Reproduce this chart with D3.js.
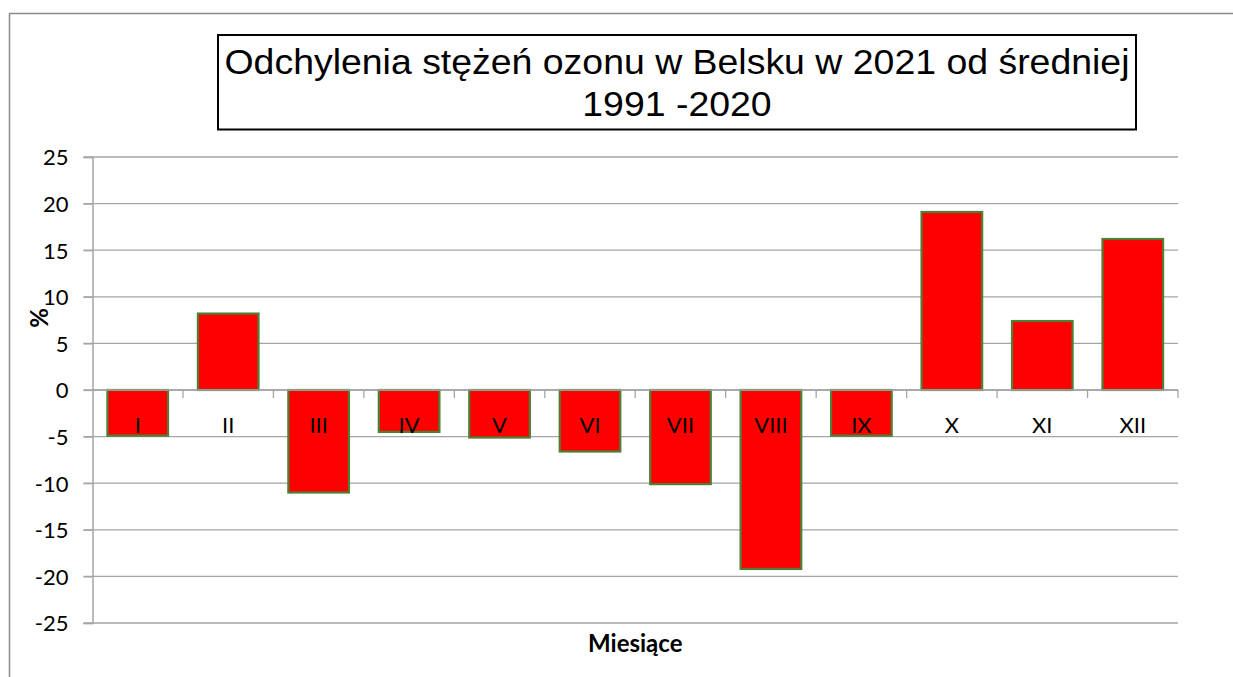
<!DOCTYPE html>
<html>
<head>
<meta charset="utf-8">
<script src="https://cdn.jsdelivr.net/npm/d3@7"></script>
<style>
  html, body { margin: 0; padding: 0; background: #fff; }
  svg { display: block; }
</style>
</head>
<body>
<svg id="chart" width="1233" height="677"></svg>
<script>
// chart data
var months = ["I", "II", "III", "IV", "V", "VI", "VII", "VIII", "IX", "X", "XI", "XII"];
var deviation = [-4.9, 8.2, -11.0, -4.5, -5.1, -6.6, -10.1, -19.2, -4.9, 19.1, 7.4, 16.2];
var yTicks = [25, 20, 15, 10, 5, 0, -5, -10, -15, -20, -25];
var titleLines = ["Odchylenia stężeń ozonu w Belsku w 2021 od średniej", "1991 -2020"];

(function () {
    var svg = d3.select("#chart");

    /* plot area */
    var plotLeft = 92.5, plotRight = 1178, plotTop = 157, plotBottom = 623;

    var x = d3.scaleBand()
        .domain(months)
        .range([plotLeft, plotRight])
        .paddingInner(0.33)
        .paddingOuter(0.165);

    var y = d3.scaleLinear()
        .domain([-25, 25])
        .range([plotBottom, plotTop]);

    // outer chart frame (only top and left edges are visible)
    svg.append("path")
        .attr("d", "M9.5,677V13.5H1233")
        .attr("fill", "none")
        .attr("stroke", "#8a8a8a")
        .attr("stroke-width", 1.5);

    // title box
    svg.append("rect")
        .attr("x", 218).attr("y", 35)
        .attr("width", 918).attr("height", 94.5)
        .attr("fill", "#fff")
        .attr("stroke", "#000")
        .attr("stroke-width", 2);

    var titles = svg.selectAll("text.title")
        .data(titleLines)
        .enter().append("text")
        .attr("class", "title")
        .attr("x", 677)
        .attr("y", function (d, i) { return 73.5 + i * 42; })
        .attr("text-anchor", "middle")
        .style("font-family", "'Liberation Sans', Arial, sans-serif")
        .style("font-size", "35px")
        .attr("fill", "#000")
        .text(function (d) { return d; });

    // the original title font runs a bit wider than Liberation Sans: stretch to match
    var firstWidth = titles.nodes()[0].getComputedTextLength();
    var stretch = 905 / firstWidth;
    titles.each(function () {
        var w = this.getComputedTextLength();
        d3.select(this)
            .attr("textLength", w * stretch)
            .attr("lengthAdjust", "spacingAndGlyphs");
    });

    // horizontal gridlines
    svg.append("g")
        .selectAll("line")
        .data(yTicks)
        .enter().append("line")
        .attr("x1", plotLeft - 9).attr("x2", plotRight)
        .attr("y1", function (d) { return y(d); })
        .attr("y2", function (d) { return y(d); })
        .attr("stroke", "#a5a5a5")
        .attr("stroke-width", 1.3);

    // y axis (plain hyphen for negatives, like the original)
    var yAxis = svg.append("g")
        .attr("transform", "translate(" + plotLeft + ",0)")
        .call(d3.axisLeft(y).tickValues(yTicks).tickSize(9).tickPadding(15)
            .tickFormat(function (d) { return String(d); }));
    yAxis.select(".domain").attr("stroke", "#a5a5a5").attr("stroke-width", 1.5);
    yAxis.selectAll(".tick line").attr("stroke", "#a5a5a5").attr("stroke-width", 1.3);
    yAxis.selectAll(".tick text")
        .style("font-family", "Lato, 'Open Sans', sans-serif")
        .style("font-size", "22px")
        .attr("fill", "#000")
        .attr("dy", "0.36em");

    // bars
    svg.append("g")
        .selectAll("rect")
        .data(deviation)
        .enter().append("rect")
        .attr("x", function (d, i) { return x(months[i]); })
        .attr("width", x.bandwidth())
        .attr("y", function (d) { return y(Math.max(0, d)); })
        .attr("height", function (d) { return Math.abs(y(d) - y(0)); })
        .attr("fill", "#ff0000")
        .attr("stroke", "#4f7f34")
        .attr("stroke-width", 2.2);

    // x axis line through zero with ticks between categories
    var step = x.step();
    var boundaries = d3.range(months.length + 1).map(function (i) { return plotLeft + i * step; });
    var xAxis = svg.append("g");
    xAxis.append("line")
        .attr("x1", plotLeft).attr("x2", plotRight)
        .attr("y1", y(0)).attr("y2", y(0))
        .attr("stroke", "#a5a5a5")
        .attr("stroke-width", 1.5);
    xAxis.selectAll("line.tick")
        .data(boundaries.slice(1))
        .enter().append("line")
        .attr("class", "tick")
        .attr("x1", function (d) { return d; })
        .attr("x2", function (d) { return d; })
        .attr("y1", y(0)).attr("y2", y(0) + 8)
        .attr("stroke", "#a5a5a5")
        .attr("stroke-width", 1.3);

    // category labels, drawn over the bars
    svg.append("g")
        .selectAll("text")
        .data(months)
        .enter().append("text")
        .attr("x", function (d) { return x(d) + x.bandwidth() / 2; })
        .attr("y", y(0) + 42.5)
        .attr("text-anchor", "middle")
        .style("font-family", "Lato, 'Open Sans', sans-serif")
        .style("font-size", "22px")
        .attr("fill", "#000")
        .text(function (d) { return d; });

    // axis titles
    svg.append("text")
        .attr("x", (plotLeft + plotRight) / 2)
        .attr("y", 652)
        .attr("text-anchor", "middle")
        .style("font-family", "Lato, 'Open Sans', sans-serif")
        .style("font-size", "24px")
        .style("font-weight", "bold")
        .attr("fill", "#000")
        .text("Miesiące");

    svg.append("text")
        .attr("transform", "translate(48,318) rotate(-90)")
        .attr("text-anchor", "middle")
        .style("font-family", "Lato, 'Open Sans', sans-serif")
        .style("font-size", "24px")
        .style("font-weight", "bold")
        .attr("fill", "#000")
        .text("%");
})();
</script>
</body>
</html>
